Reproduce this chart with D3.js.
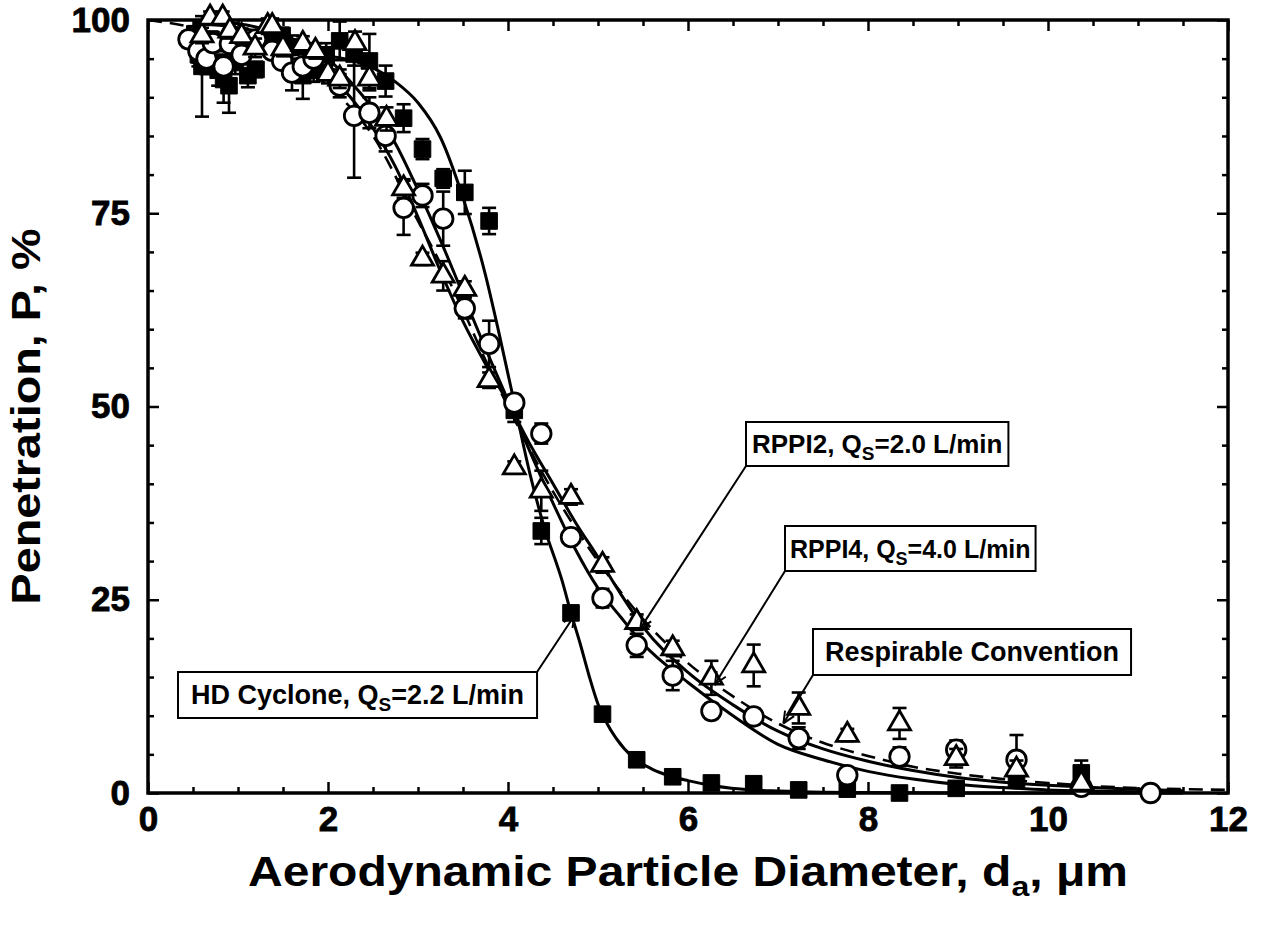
<!DOCTYPE html>
<html><head><meta charset="utf-8">
<script src="https://cdn.jsdelivr.net/npm/d3@7"></script>
<style>
body{margin:0;background:#fff}
text{font-family:"Liberation Sans",Arial,Helvetica,sans-serif;font-weight:bold;fill:#000}
</style>
</head><body>
<svg id="chart" width="1264" height="927"></svg>
<script>
// ---------- data ----------
// HD Cyclone (filled squares)
const hdX   = [0.52,0.56,0.60,0.65,0.70,0.78,0.84,0.90,0.97,1.04,1.11,1.20,1.29,1.38,1.49,1.60,1.72,1.84,1.98,2.13,2.29,2.46,2.64,2.84,3.05,3.28,3.52,3.79,4.07,4.37,4.70,5.05,5.43,5.83,6.26,6.73,7.23,7.77,8.35,8.98,9.65,10.37];
const hdP   = [98.2,95.5,94.0,96.8,97.5,93.5,92.3,91.5,94.5,95.5,92.8,93.6,97.3,97.0,98.0,96.5,92.8,93.5,95.5,97.3,95.6,94.7,92.1,87.3,83.3,79.5,77.7,74.0,49.5,33.9,23.3,10.2,4.3,2.1,1.3,1.2,0.4,0.5,0.0,0.6,1.7,2.6];
const hdErr = [1.0,1.5,6.5,1.5,1.0,2.0,3.0,3.5,1.5,1.0,1.5,1.0,1.0,1.0,1.0,1.5,3.0,1.5,1.5,2.5,1.5,3.5,2.0,1.8,1.3,1.2,2.8,1.7,1.5,1.7,0.8,0.6,0.5,0.5,0.4,0.4,0.3,0.3,0.3,0.3,0.5,1.6];

// RPPI2 (open circles)
const rppi2X   = [0.45,0.56,0.65,0.72,0.84,0.91,1.04,1.20,1.38,1.49,1.60,1.72,1.84,2.13,2.29,2.46,2.64,2.84,3.05,3.28,3.52,3.79,4.07,4.37,4.70,5.05,5.43,5.83,6.26,6.73,7.23,7.77,8.35,8.98,9.65,10.37,11.14];
const rppi2P   = [97.5,96.0,95.0,97.0,94.0,96.9,95.5,97.5,96.0,94.7,93.2,94.0,95.0,91.5,87.6,88.0,85.0,75.7,77.3,74.3,62.7,58.1,50.5,46.5,33.1,25.2,19.1,15.2,10.6,9.9,7.1,2.3,4.7,5.6,4.3,0.8,0.0];
const rppi2Err = [1.0,1.5,2.0,1.0,1.5,1.0,1.2,1.0,1.0,1.0,2.3,1.0,1.0,1.5,8.0,2.0,2.0,3.5,1.5,3.5,1.3,3.0,1.0,1.3,1.0,1.2,1.5,1.9,1.0,1.0,1.4,0.5,1.2,1.2,3.2,0.8,0.3];

// RPPI4 (open triangles)
const rppi4X   = [0.60,0.69,0.83,0.91,1.04,1.19,1.33,1.38,1.50,1.72,1.86,2.00,2.13,2.30,2.46,2.65,2.84,3.05,3.28,3.52,3.79,4.07,4.37,4.70,5.05,5.43,5.83,6.26,6.73,7.23,7.77,8.35,8.98,9.65,10.37];
const rppi4P   = [98.0,100.3,100.3,98.6,97.9,96.4,99.2,99.2,96.3,96.9,96.0,93.0,92.4,97.0,92.4,87.2,78.2,69.1,66.9,65.2,53.4,42.1,39.1,38.3,29.5,22.1,18.7,14.9,16.5,11.0,7.5,9.0,4.5,3.0,1.2];
const rppi4Err = [1.0,0.8,0.8,1.0,1.0,1.2,1.0,1.0,1.0,1.0,1.0,1.2,1.2,1.5,1.5,1.5,1.2,0.8,1.9,1.0,1.0,0.8,2.6,1.0,1.0,1.0,1.0,2.2,2.7,2.0,0.8,2.0,1.2,1.2,1.0];

// fitted curves
const hdFitX = [0.5,1,1.5,2,2.25,2.5,2.75,3,3.25,3.5,3.75,3.9,4.06,4.25,4.4,4.6,4.7,4.8,4.9,5.0,5.1,5.2,5.4,5.6,5.8,6.0,6.3,6.7,7.0,7.5,8,9,10,11,11.5];
const hdFitP = [96,96,95.8,95.3,94.8,93.8,92,89.3,84.8,77,67,59.5,51,41,34.5,27.5,23.3,19.4,15.2,11.5,9.0,7.1,4.5,3.1,2.2,1.6,0.9,0.4,0.25,0.1,0.05,0,0,0,0];
const fitAX = [0.5,1,1.5,2,2.25,2.5,2.75,3,3.25,3.5,3.75,4,4.25,4.5,4.75,5,5.25,5.5,6,6.5,7,7.5,8,8.5,9,9.5,10,10.5,11,11.5];
const fitAP = [99.5,99,97.5,93,90,86,81,74.5,67.5,61,55.5,50.5,45,40,35,30.5,25.8,21.5,15.6,11.4,8.0,5.7,4.1,2.9,2.0,1.4,1.0,0.7,0.5,0.3];
const fitBX = fitAX;
const fitBP = [99.8,99.5,98,95,92,88.5,84,78,71.5,64.5,57.5,50.8,44,37.5,31.5,26.5,22.8,19.3,14.3,10.0,6.3,4.3,2.8,1.8,1.1,0.7,0.4,0.25,0.15,0.1];
const respX = [0,0.5,1,1.5,2,2.5,3,3.25,3.5,3.75,4,4.5,5,5.5,6,6.5,7,7.5,8,8.5,9,9.5,10,10.5,11,11.5,12];
const respP = [100,99,97,95.5,91.5,85,74,68.5,62.5,56,50,39,30,22.5,16.8,12.5,9.0,6.5,4.8,3.4,2.5,1.8,1.3,0.9,0.65,0.5,0.4];

// ticks
const xMajor = [0,2,4,6,8,10,12];
const xMinor = d3.range(0,12.01,0.5).filter(v=>v%2!==0);
const yMajor = [0,25,50,75,100];
const yMinor = d3.range(0,100.1,5).filter(v=>v%25!==0);

// annotations
const notes = [
  {pre:"HD Cyclone, Q", sub:"S", post:"=2.2 L/min", bx:178, by:672, h:46, fs:27, pad:13, corner:"tr", tx:4.74, tp:23.0},
  {pre:"RPPI2, Q", sub:"S", post:"=2.0 L/min", bx:746, by:422, h:44, fs:26, pad:6, corner:"bl", tx:5.47, tp:21.3},
  {pre:"RPPI4, Q", sub:"S", post:"=4.0 L/min", bx:785, by:526, h:45, fs:25, pad:5, corner:"bl", tx:6.30, tp:14.1},
  {pre:"Respirable Convention", sub:"", post:"", bx:813, by:629, h:46, fs:27, pad:12, corner:"bl", tx:7.06, tp:9.0}
];

// ---------- drawing ----------
const svg = d3.select('#chart');
const L=148, R=1228, T=20, B=793;
const x = d3.scaleLinear().domain([0,12]).range([L,R]);
const y = d3.scaleLinear().domain([0,100]).range([B,T]);

function ax(gen, tr, vals, size, labels){
  const g = svg.append('g').attr('transform',tr)
    .call(gen.tickValues(vals).tickSizeInner(size).tickSizeOuter(0)
      .tickPadding(labels?labels:3).tickFormat(labels? d3.format('d') : ''));
  g.select('.domain').remove();
  g.selectAll('line').attr('stroke','#000').attr('stroke-width',2.5);
  g.selectAll('text').style('font-size','35px').style('font-family','"Liberation Sans",Arial,sans-serif')
    .style('font-weight','bold').attr('stroke','#000').attr('stroke-width',0.8);
  return g;
}
ax(d3.axisBottom(x), `translate(0,${B})`, xMajor, -11, 13);
ax(d3.axisBottom(x), `translate(0,${B})`, xMinor, -6, 0);
ax(d3.axisTop(x), `translate(0,${T})`, xMajor, -11, 0);
ax(d3.axisTop(x), `translate(0,${T})`, xMinor, -6, 0);
ax(d3.axisLeft(y), `translate(${L},0)`, yMajor, -11, 18);
ax(d3.axisLeft(y), `translate(${L},0)`, yMinor, -6, 0);
ax(d3.axisRight(y), `translate(${R},0)`, yMajor, -11, 0);
ax(d3.axisRight(y), `translate(${R},0)`, yMinor, -6, 0);

svg.append('rect').attr('x',L).attr('y',T).attr('width',R-L).attr('height',B-T)
  .attr('fill','none').attr('stroke','#000').attr('stroke-width',3.5);

// axis titles
const xt = svg.append('text').attr('x',(L+R)/2).attr('y',886).attr('text-anchor','middle')
  .style('font-size','42px').attr('textLength',880).attr('lengthAdjust','spacingAndGlyphs');
xt.append('tspan').text('Aerodynamic Particle Diameter, d');
xt.append('tspan').text('a').style('font-size','28px').attr('dy',10);
xt.append('tspan').text(', μm').attr('dy',-10);

svg.append('text').attr('transform',`translate(40,${(T+B)/2+10}) rotate(-90)`).attr('text-anchor','middle')
  .style('font-size','40px').attr('textLength',376).attr('lengthAdjust','spacingAndGlyphs')
  .text('Penetration, P, %');

// curves
const line = d3.line().x(d=>x(d[0])).y(d=>y(d[1])).curve(d3.curveMonotoneX);
function curve(xs, ps, dash){
  svg.append('path').datum(xs.map((v,i)=>[v,ps[i]])).attr('d',line)
    .attr('fill','none').attr('stroke','#000').attr('stroke-width',dash?2.6:3)
    .attr('stroke-dasharray',dash?'14,8':null);
}
curve(respX, respP, true);
curve(fitAX, fitAP, false);
curve(fitBX, fitBP, false);
curve(hdFitX, hdFitP, false);

// markers with error bars
function errbars(g, xs, ps, es){
  xs.forEach((v,i)=>{
    const cx=x(v), y1=y(ps[i]-es[i]), y2=y(ps[i]+es[i]);
    g.append('line').attr('x1',cx).attr('x2',cx).attr('y1',y1).attr('y2',y2);
    g.append('line').attr('x1',cx-7).attr('x2',cx+7).attr('y1',y1).attr('y2',y1);
    g.append('line').attr('x1',cx-7).attr('x2',cx+7).attr('y1',y2).attr('y2',y2);
  });
  g.selectAll('line').attr('stroke','#000').attr('stroke-width',2.6);
}
function series(xs, ps, es, sym, size, filled){
  const g = svg.append('g');
  errbars(g.append('g'), xs, ps, es);
  g.append('g').selectAll('path').data(xs.map((v,i)=>[v,ps[i]])).join('path')
    .attr('transform',d=>`translate(${x(d[0])},${y(d[1])})`)
    .attr('d', d3.symbol().type(sym).size(size))
    .attr('fill', filled?'#000':'#fff').attr('stroke','#000').attr('stroke-width', filled?1:2.8);
}
series(hdX, hdP, hdErr, d3.symbolSquare, 275, true);
series(rppi2X, rppi2P, rppi2Err, d3.symbolCircle, 300, false);
series(rppi4X, rppi4P, rppi4Err, d3.symbolTriangle, 210, false);

// annotations
notes.forEach(n=>{
  const g = svg.append('g');
  const t = g.append('text').attr('x',n.bx+n.pad).attr('y',n.by+n.h/2+9).style('font-size',n.fs+'px');
  t.append('tspan').text(n.pre);
  if(n.sub){
    t.append('tspan').text(n.sub).style('font-size',Math.round(n.fs*0.72)+'px').attr('dy',7);
    t.append('tspan').text(n.post).attr('dy',-7);
  }
  const w = t.node().getComputedTextLength() + 2*n.pad;
  g.insert('rect','text').attr('x',n.bx).attr('y',n.by).attr('width',w).attr('height',n.h)
    .attr('fill','#fff').attr('stroke','#000').attr('stroke-width',2);
  const sx = n.corner==='tr' ? n.bx+w : n.bx;
  const sy = n.corner==='tr' ? n.by : n.by+n.h;
  const ex = x(n.tx), ey = y(n.tp);
  const lg = svg.insert('g', () => g.node());
  lg.append('line').attr('x1',sx).attr('y1',sy).attr('x2',ex).attr('y2',ey);
  const a = Math.atan2(ey-sy, ex-sx);
  [-1,1].forEach(s=>{
    const b = a+Math.PI+s*0.42;
    lg.append('line').attr('x1',ex).attr('y1',ey).attr('x2',ex+13*Math.cos(b)).attr('y2',ey+13*Math.sin(b));
  });
  lg.selectAll('line').attr('stroke','#000').attr('stroke-width',2);
});
</script>
</body></html>
